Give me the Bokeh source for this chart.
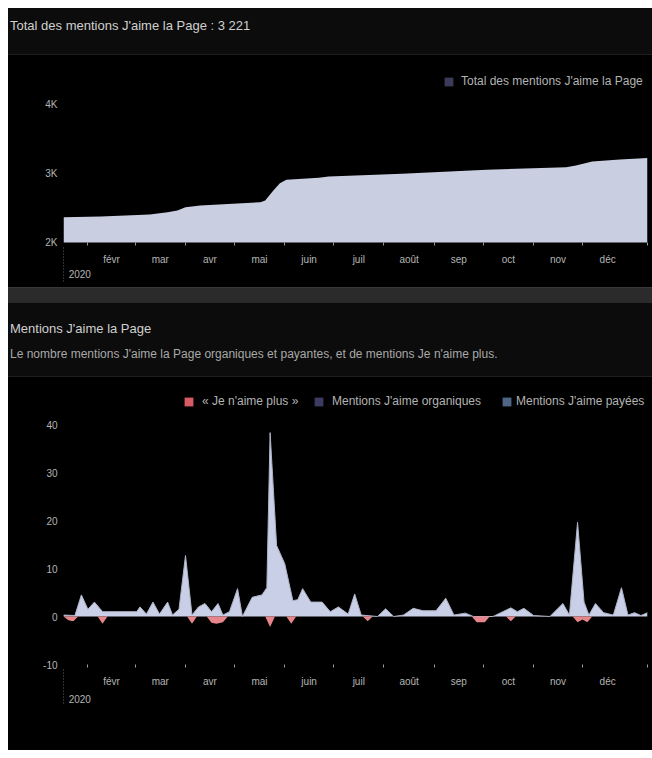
import pandas as pd
from bokeh.plotting import figure
from bokeh.models import (Div, Range1d, FixedTicker, Legend, LegendItem, LinearAxis)
from bokeh.layouts import column
from bokeh.embed import file_html
from bokeh.resources import INLINE

FONT = "Liberation Sans"

# ---------------- data ----------------
total_title = "Total des mentions J'aime la Page : 3 221"
total_legend = "Total des mentions J'aime la Page"
total_dates = ["2020-01-17", "2020-02-09", "2020-03-10", "2020-03-21", "2020-03-27",
               "2020-04-01", "2020-04-10", "2020-04-30", "2020-05-17", "2020-05-20",
               "2020-05-25", "2020-05-29", "2020-06-02", "2020-06-22", "2020-06-28",
               "2020-08-12", "2020-10-03", "2020-11-21", "2020-11-27", "2020-12-07",
               "2020-12-24", "2021-01-10"]
total_values = [2365, 2375, 2404, 2438, 2462,
                2510, 2534, 2558, 2582, 2606,
                2751, 2856, 2905, 2935, 2953,
                2992, 3050, 3088, 3112, 3170,
                3199, 3221]
total_ticks = [2000, 3000, 4000]
total_tick_labels = ["2K", "3K", "4K"]

month_starts = ["2020-02-01", "2020-03-01", "2020-04-01", "2020-05-01", "2020-06-01",
                "2020-07-01", "2020-08-01", "2020-09-01", "2020-10-01", "2020-11-01",
                "2020-12-01", "2021-01-01"]
month_labels = ["févr", "mar", "avr", "mai", "juin", "juil", "août", "sep", "oct", "nov", "déc"]
year_label = "2020"
year_label_date = "2020-01-27"

daily_title = "Mentions J'aime la Page"
daily_subtitle = ("Le nombre mentions J'aime la Page organiques et payantes, "
                  "et de mentions Je n'aime plus.")
series_names = ["« Je n'aime plus »", "Mentions J'aime organiques", "Mentions J'aime payées"]

organic_dates = ["2020-01-17", "2020-01-24", "2020-01-28", "2020-02-01", "2020-02-05",
                 "2020-02-10", "2020-02-12", "2020-03-02", "2020-03-04", "2020-03-08",
                 "2020-03-12", "2020-03-16", "2020-03-21", "2020-03-24", "2020-03-28",
                 "2020-04-01", "2020-04-05", "2020-04-09", "2020-04-13", "2020-04-17",
                 "2020-04-21", "2020-04-24", "2020-04-28", "2020-05-03", "2020-05-06",
                 "2020-05-12", "2020-05-18", "2020-05-21", "2020-05-23", "2020-05-27",
                 "2020-06-01", "2020-06-06", "2020-06-09", "2020-06-12", "2020-06-17",
                 "2020-06-24", "2020-06-29", "2020-07-04", "2020-07-10", "2020-07-14",
                 "2020-07-18", "2020-07-28", "2020-08-02", "2020-08-07", "2020-08-13",
                 "2020-08-19", "2020-08-25", "2020-09-02", "2020-09-08", "2020-09-13",
                 "2020-09-20", "2020-09-25", "2020-10-07", "2020-10-18", "2020-10-22",
                 "2020-10-26", "2020-11-01", "2020-11-11", "2020-11-19", "2020-11-23",
                 "2020-11-28", "2020-12-02", "2020-12-05", "2020-12-09", "2020-12-14",
                 "2020-12-20", "2020-12-25", "2020-12-29", "2021-01-02", "2021-01-06",
                 "2021-01-10"]
organic_values = [0.3, 0.2, 4.5, 1.5, 3.0,
                  1.0, 1.0, 1.0, 2.0, 0.5,
                  3.0, 0.5, 3.0, 0.3, 1.5,
                  12.7, 0.3, 2.0, 2.7, 1.0,
                  2.7, 0.3, 1.0, 5.8, 0.0,
                  4.0, 4.5, 6.0, 38.3, 14.8,
                  11.0, 3.3, 3.5, 5.8, 3.0,
                  3.0, 1.0, 2.0, 0.5, 4.7,
                  0.3, 0.0, 1.6, 0.0, 0.3,
                  1.7, 1.2, 1.2, 3.8, 0.3,
                  0.7, 0.0, 0.0, 1.8, 1.0,
                  1.7, 0.2, 0.0, 2.7, 0.3,
                  19.6, 3.0, 0.3, 2.7, 0.8,
                  0.3, 6.0, 0.3, 0.8, 0.2,
                  0.8]

unlike_dates = ["2020-01-17", "2020-01-20", "2020-01-23", "2020-01-26", "2020-02-07",
                "2020-02-10", "2020-02-13", "2020-04-02", "2020-04-05", "2020-04-08",
                "2020-04-14", "2020-04-17", "2020-04-20", "2020-04-24", "2020-04-27",
                "2020-05-20", "2020-05-23", "2020-05-26", "2020-06-02", "2020-06-05",
                "2020-06-08", "2020-07-19", "2020-07-22", "2020-07-25", "2020-09-24",
                "2020-09-27", "2020-10-02", "2020-10-05", "2020-10-15", "2020-10-18",
                "2020-10-21", "2020-11-25", "2020-11-28", "2020-12-01", "2020-12-04",
                "2020-12-07", "2021-01-10"]
unlike_values = [0, -0.8, -1.0, 0, 0,
                 -1.5, 0, 0, -1.5, 0,
                 0, -1.3, -1.5, -1.2, 0,
                 0, -2.2, 0, 0, -1.5,
                 0, 0, -1.0, 0, 0,
                 -1.2, -1.2, 0, 0, -1.0,
                 0, 0, -1.2, -0.6, -1.2,
                 0, 0]

paid_dates = ["2020-01-17", "2021-01-10"]
paid_values = [0, 0]

daily_ticks = [-10, 0, 10, 20, 30, 40]

# ---------------- helpers ----------------
ORIGIN = pd.Timestamp("2020-01-01")


def to_days(ds):
    return [float((pd.Timestamp(d) - ORIGIN).days) for d in ds]


tx = to_days(total_dates)
ox = to_days(organic_dates)
ux = to_days(unlike_dates)
px_ = to_days(paid_dates)
ms = to_days(month_starts)
mid_months = [(a + b) / 2 for a, b in zip(ms[:-1], ms[1:])]
minor = ms[:-1] + [tx[-1]]
year_x = to_days([year_label_date])[0]

BG = "#000000"
HEAD_BG = "#0c0c0c"
AX_TXT = "#b5b5b5"
LEG_TXT = "#b3b3b3"
W = 644


def style_axes(p, yticks, ylabels, year_standoff):
    p.xgrid.visible = False
    p.ygrid.visible = False
    p.outline_line_color = None
    xa = p.xaxis[0]
    xa.ticker = FixedTicker(ticks=mid_months, minor_ticks=minor)
    xa.major_label_overrides = {m: lab for m, lab in zip(mid_months, month_labels)}
    xa.axis_line_color = None
    xa.major_tick_line_color = None
    xa.major_tick_out = 0
    xa.major_tick_in = 0
    xa.minor_tick_line_color = "#9a9a9a"
    xa.minor_tick_out = 3
    xa.minor_tick_in = 0
    xa.major_label_standoff = 8
    xa.major_label_text_font = FONT
    xa.major_label_text_font_size = "10px"
    xa.major_label_text_color = AX_TXT
    # second axis line: the year under the first month, with a dotted start marker
    yr = LinearAxis(ticker=FixedTicker(ticks=[year_x], minor_ticks=[tx[0]]),
                    major_label_overrides={year_x: year_label},
                    axis_line_color=None, major_tick_line_color=None,
                    major_tick_out=0, major_tick_in=0,
                    minor_tick_line_color="#5e5e5e", minor_tick_line_dash="1 2",
                    minor_tick_out=14, minor_tick_in=22,
                    major_label_standoff=year_standoff - 14, major_label_text_font=FONT,
                    major_label_text_font_size="10px", major_label_text_color=AX_TXT)
    p.add_layout(yr, "below")
    ya = p.yaxis[0]
    ya.ticker = FixedTicker(ticks=yticks)
    ya.major_label_overrides = {t: l for t, l in zip(yticks, ylabels)}
    ya.axis_line_color = None
    ya.major_tick_line_color = None
    ya.major_tick_out = 0
    ya.major_tick_in = 0
    ya.minor_tick_line_color = None
    ya.major_label_standoff = 6
    ya.major_label_text_font = FONT
    ya.major_label_text_font_size = "10px"
    ya.major_label_text_color = AX_TXT


def add_legend(p, label, renderer, loc, standoff=7):
    leg = Legend(items=[LegendItem(label=label, renderers=[renderer])],
                 location=loc, orientation="horizontal",
                 background_fill_alpha=0, border_line_color=None,
                 padding=0, margin=0, spacing=0,
                 glyph_width=11, glyph_height=11, label_height=11,
                 label_standoff=standoff, label_text_font=FONT,
                 label_text_font_size="12px", label_text_color=LEG_TXT)
    p.add_layout(leg)


# ---------------- header 1 ----------------
header1 = Div(
    text=(f'<div style="position:relative;width:{W}px;height:47px;background:{HEAD_BG};'
          f'border-bottom:1px solid #1e1e1e;box-sizing:border-box;">'
          f'<span style="position:absolute;left:2px;top:9px;font-family:\'{FONT}\';'
          f'font-size:13px;color:#d0d0d0;white-space:nowrap;">{total_title}</span></div>'),
    width=W, height=47, margin=0)

# ---------------- chart 1 ----------------
p1 = figure(width=W, height=232, x_range=Range1d(tx[0], tx[-1]),
            y_range=Range1d(2000, 4585), output_backend="svg", toolbar_location=None,
            background_fill_color=BG, border_fill_color=BG, outline_line_color=None,
            min_border_left=55, min_border_right=5, min_border_top=8, min_border_bottom=45,
            margin=0)
p1.varea(x=tx, y1=0, y2=total_values, fill_color="#c9cee1")
sw1 = p1.varea(x=tx, y1=0, y2=total_values, fill_color="#3b3a58", visible=False)
style_axes(p1, total_ticks, total_tick_labels, 2)
add_legend(p1, total_legend, sw1, (380, 154))

# ---------------- header 2 ----------------
header2 = Div(
    text=(f'<div style="position:relative;width:{W}px;height:90px;background:{HEAD_BG};">'
          f'<div style="position:absolute;left:0;top:0;width:{W}px;height:16px;'
          f'background:#2b2b2b;border-top:1px solid #383838;box-sizing:border-box;"></div>'
          f'<div style="position:absolute;left:0;bottom:0;width:{W}px;height:1px;background:#1e1e1e;"></div>'
          f'<span style="position:absolute;left:2px;top:33px;font-family:\'{FONT}\';'
          f'font-size:13px;color:#d0d0d0;white-space:nowrap;">{daily_title}</span>'
          f'<span style="position:absolute;left:2px;top:59px;font-family:\'{FONT}\';'
          f'font-size:12px;color:#a8a8a8;white-space:nowrap;">{daily_subtitle}</span></div>'),
    width=W, height=90, margin=0)

# ---------------- chart 2 ----------------
p2 = figure(width=W, height=373, x_range=Range1d(tx[0], tx[-1]),
            y_range=Range1d(-10, 48.125), output_backend="svg", toolbar_location=None,
            background_fill_color=BG, border_fill_color=BG, outline_line_color=None,
            min_border_left=55, min_border_right=5, min_border_top=8, min_border_bottom=86,
            margin=0)
p2.varea(x=ox, y1=0, y2=organic_values, fill_color="#c9cfe6")
p2.line(x=ox, y=organic_values, line_color="#aeb3c6", line_width=1)
p2.varea(x=ux, y1=0, y2=unlike_values, fill_color="#e8858a")
r_paid = p2.varea(x=px_, y1=0, y2=paid_values, fill_color="#4f6586")
sw_unlike = p2.varea(x=ux, y1=0, y2=unlike_values, fill_color="#d65b64", visible=False)
sw_org = p2.varea(x=ox, y1=0, y2=organic_values, fill_color="#3c3b62", visible=False)
style_axes(p2, daily_ticks, [str(t) for t in daily_ticks], 5)
add_legend(p2, series_names[0], sw_unlike, (120, 256), 8)
add_legend(p2, series_names[1], sw_org, (250, 256), 8)
add_legend(p2, series_names[2], r_paid, (438, 256), 4)

layout = column(header1, p1, header2, p2, spacing=0, margin=(8, 0, 0, 8),
                styles={"background-color": "#000000"})
open("out.html", "w").write(file_html(layout, INLINE))
